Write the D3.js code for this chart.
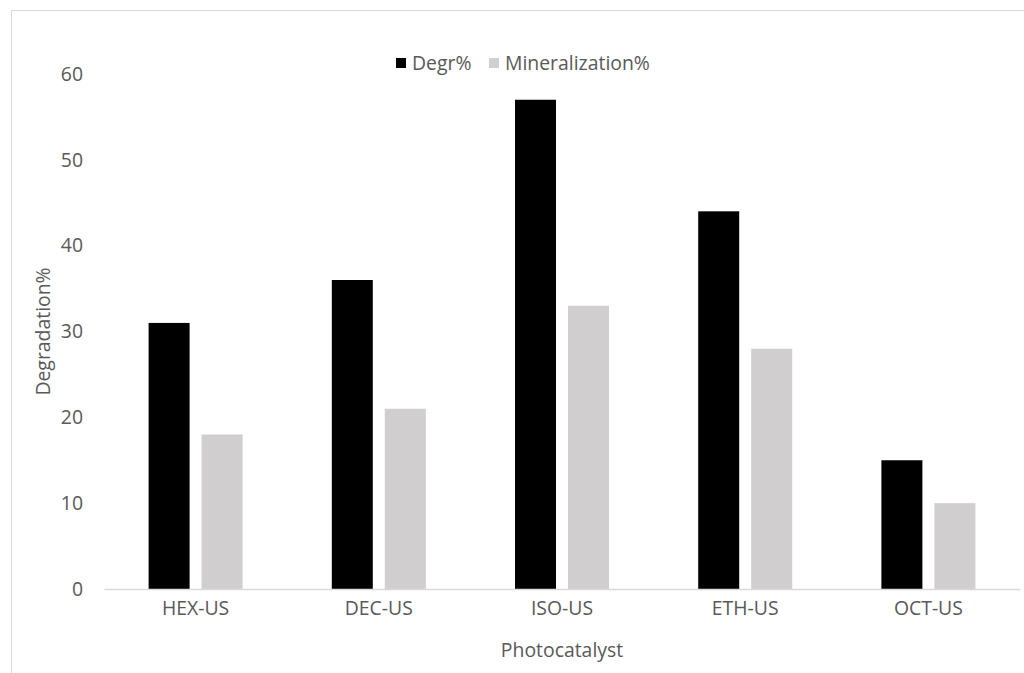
<!DOCTYPE html>
<html>
<head>
<meta charset="utf-8">
<script src="https://cdn.jsdelivr.net/npm/d3@7"></script>
<style>
  html, body { margin: 0; padding: 0; background: #fff; }
  svg { display: block; }
  text { font-family: "Open Sans", sans-serif; fill: #595959; }
</style>
</head>
<body>
<svg id="chart" width="1024" height="673"></svg>
<script>
// Photocatalyst performance data
const categories = ["HEX-US", "DEC-US", "ISO-US", "ETH-US", "OCT-US"];
const seriesNames = ["Degr%", "Mineralization%"];
const degradation = [31, 36, 57, 44, 15];
const mineralization = [18, 21, 33, 28, 10];
const yTicks = [0, 10, 20, 30, 40, 50, 60];
const colors = ["#000000", "#d0cece"];

const svg = d3.select("#chart");
const W = 1024, H = 673;
const margin = { left: 104, right: 4, top: 74, bottom: 84 };
const plotBottom = H - margin.bottom; // 589
const plotRight = W - margin.right;   // 1020

// Size the text so the longest legend entry spans about 145px
const probe = svg.append("text").style("font-size", "100px").text(seriesNames[1]);
const probeW = probe.node().getComputedTextLength();
probe.remove();
const fs = Math.min(20, Math.max(14, 100 * 145 / probeW));
const fontSize = fs + "px";

// Outer chart frame
svg.append("rect")
  .attr("x", 11.5).attr("y", 10.5)
  .attr("width", 1030).attr("height", 700)
  .attr("fill", "none").attr("stroke", "#d9d9d9").attr("stroke-width", 1);

const x = d3.scaleBand().domain(categories).range([margin.left, plotRight]).padding(0);
const y = d3.scaleLinear().domain([0, 60]).range([plotBottom, margin.top]);

const barW = 41, barGap = 12;
const groupW = barW * 2 + barGap;

const rows = categories.map((c, i) => ({ cat: c, vals: [degradation[i], mineralization[i]] }));

const groups = svg.append("g").selectAll("g").data(rows).join("g")
  .attr("transform", d => `translate(${x(d.cat) + x.bandwidth() / 2 - groupW / 2},0)`);

groups.selectAll("rect").data(d => d.vals.map((v, k) => ({ v, k })))
  .join("rect")
  .attr("x", d => d.k * (barW + barGap))
  .attr("y", d => y(d.v))
  .attr("width", barW)
  .attr("height", d => y(0) - y(d.v))
  .attr("fill", d => colors[d.k]);

// X axis baseline and labels
const xAxis = d3.axisBottom(x).tickSize(0).tickPadding(12);
const gx = svg.append("g").attr("transform", `translate(0,${plotBottom})`).call(xAxis);
gx.select(".domain").attr("stroke", "#d9d9d9").attr("stroke-width", 1.5);
gx.selectAll("text").style("font-size", fontSize).attr("fill", "#595959")
  .style("font-family", "'Open Sans', sans-serif");

// Y axis labels (no line)
const yAxis = d3.axisLeft(y).tickValues(yTicks).tickSize(0).tickPadding(0);
const gy = svg.append("g").attr("transform", `translate(83,0)`).call(yAxis);
gy.select(".domain").remove();
gy.selectAll("text").style("font-size", fontSize).attr("fill", "#595959")
  .style("font-family", "'Open Sans', sans-serif");

// Axis titles
svg.append("text")
  .attr("transform", `translate(50,${(plotBottom + margin.top) / 2}) rotate(-90)`)
  .attr("text-anchor", "middle")
  .style("font-size", fontSize)
  .text("Degradation%");

svg.append("text")
  .attr("x", (margin.left + plotRight) / 2).attr("y", 657)
  .attr("text-anchor", "middle")
  .style("font-size", fontSize)
  .text("Photocatalyst");

// Legend
const legend = svg.append("g").attr("transform", "translate(396,63)");
const legendItems = [{ name: seriesNames[0], x: 0 }, { name: seriesNames[1], x: 93 }];
legendItems.forEach((it, k) => {
  legend.append("rect").attr("x", it.x).attr("y", -5).attr("width", 10).attr("height", 10).attr("fill", colors[k]);
  legend.append("text").attr("x", it.x + 16).attr("y", 7)
    .style("font-size", fontSize).text(it.name);
});
</script>
</body>
</html>
